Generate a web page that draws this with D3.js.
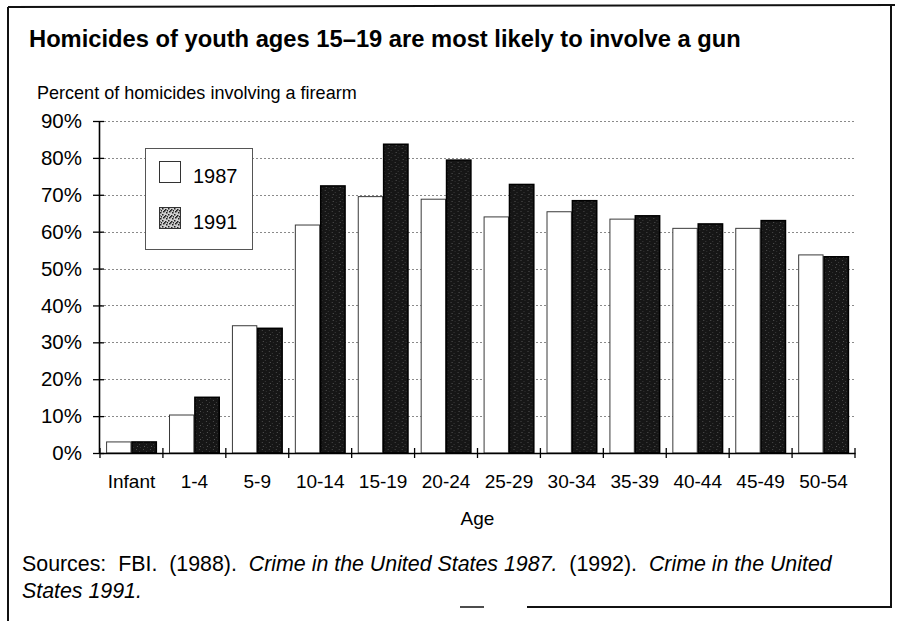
<!DOCTYPE html>
<html>
<head>
<meta charset="utf-8">
<script src="https://cdn.jsdelivr.net/npm/d3@7"></script>
<style>
  html, body { margin: 0; padding: 0; background: #fff; }
  svg { display: block; font-family: "Liberation Sans", Arial, Helvetica, sans-serif; }
  text { white-space: pre; }
</style>
</head>
<body>
<svg id="chart" width="899" height="621"></svg>
<script>
// Age groups on the x axis
const categories = ["Infant", "1-4", "5-9", "10-14", "15-19", "20-24", "25-29", "30-34", "35-39", "40-44", "45-49", "50-54"];
// Percent of homicides involving a firearm, by year
const values1987 = [3.0, 10.3, 34.5, 61.8, 69.5, 68.8, 64.0, 65.4, 63.4, 60.9, 60.9, 53.7];
const values1991 = [3.0, 15.1, 33.8, 72.4, 83.7, 79.4, 72.8, 68.4, 64.3, 62.1, 63.0, 53.2];
const seriesNames = ["1987", "1991"];
const yTicks = [0, 10, 20, 30, 40, 50, 60, 70, 80, 90];

const titleText = "Homicides of youth ages 15\u201319 are most likely to involve a gun";
const yLabelText = "Percent of homicides involving a firearm";
const xLabelText = "Age";

const svg = d3.select("#chart");

// shrink/grow a text's font so it spans a given width
function fitWidth(sel, width, base) {
  sel.style("font-size", base + "px");
  const w = sel.node().getComputedTextLength();
  sel.style("font-size", (base * width / w).toFixed(2) + "px");
  return sel;
}

// Stipple fills for the 1991 series
const defs = svg.append("defs");
const darkPat = defs.append("pattern")
  .attr("id", "dark").attr("patternUnits", "userSpaceOnUse")
  .attr("width", 7).attr("height", 7);
darkPat.append("rect").attr("width", 7).attr("height", 7).attr("fill", "#161616");
[[1, 1, "#4a4a4a"], [4, 3, "#3a3a3a"], [2, 5, "#555"], [5, 6, "#2e2e2e"]].forEach(([px, py, c]) =>
  darkPat.append("rect").attr("x", px).attr("y", py).attr("width", 1).attr("height", 1).attr("fill", c));

const swatchPat = defs.append("pattern")
  .attr("id", "speckle").attr("patternUnits", "userSpaceOnUse")
  .attr("width", 6).attr("height", 6);
swatchPat.append("rect").attr("width", 6).attr("height", 6).attr("fill", "#cfcfcf");
[[0, 0], [3, 1], [1, 3], [4, 4], [2, 2], [5, 2]].forEach(([px, py]) =>
  swatchPat.append("rect").attr("x", px).attr("y", py).attr("width", 1.5).attr("height", 1.5).attr("fill", "#222"));

// Outer frame
const frame = svg.append("g").attr("stroke", "#111").attr("stroke-width", 2).attr("fill", "none");
frame.append("line").attr("x1", 8).attr("y1", 7).attr("x2", 8).attr("y2", 621);
frame.append("line").attr("x1", 8).attr("y1", 7).attr("x2", 895).attr("y2", 5);
frame.append("line").attr("x1", 891).attr("y1", 5).attr("x2", 891).attr("y2", 607);
frame.append("line").attr("x1", 460).attr("y1", 607).attr("x2", 484).attr("y2", 607).attr("stroke-width", 1.5);
frame.append("line").attr("x1", 527).attr("y1", 607).attr("x2", 892).attr("y2", 607);

// Title and axis caption
fitWidth(svg.append("text").attr("x", 29).attr("y", 47)
  .attr("font-weight", "bold").attr("fill", "#000").text(titleText), 712, 22);
fitWidth(svg.append("text").attr("x", 37).attr("y", 99)
  .attr("fill", "#000").text(yLabelText), 320, 19);

// Scales
const plotLeft = 100, plotRight = 855, plotTop = 121, plotBottom = 453;
const x = d3.scaleBand().domain(categories).range([plotLeft, plotRight]).paddingInner(0).paddingOuter(0);
const x1 = d3.scaleBand().domain(seriesNames).range([0, x.bandwidth()]).paddingInner(0).paddingOuter(0.24);
const y = d3.scaleLinear().domain([0, 90]).range([plotBottom, plotTop]);

// Dotted gridlines
svg.append("g").selectAll("line")
  .data(yTicks.filter(d => d > 0))
  .join("line")
  .attr("x1", plotLeft).attr("x2", plotRight)
  .attr("y1", d => Math.round(y(d)) + 0.5).attr("y2", d => Math.round(y(d)) + 0.5)
  .attr("stroke", "#8a8a8a").attr("stroke-width", 1).attr("stroke-dasharray", "2,2");

// Bars
const rows = categories.map((c, i) => ({ cat: c, vals: [
  { key: "1987", v: values1987[i] },
  { key: "1991", v: values1991[i] }
]}));

const groups = svg.append("g").selectAll("g")
  .data(rows).join("g")
  .attr("transform", d => `translate(${x(d.cat)},0)`);

groups.selectAll("rect")
  .data(d => d.vals)
  .join("rect")
  .attr("x", d => x1(d.key) + 0.5)
  .attr("y", d => y(d.v))
  .attr("width", x1.bandwidth() - 1)
  .attr("height", d => plotBottom - y(d.v))
  .attr("fill", d => d.key === "1987" ? "#fff" : "url(#dark)")
  .attr("stroke", d => d.key === "1987" ? "#3a3a3a" : "#000")
  .attr("stroke-width", d => d.key === "1987" ? 1 : 1.5);

// Y axis
const yAxis = svg.append("g")
  .attr("transform", `translate(${plotLeft - 1},0)`)
  .call(d3.axisLeft(y).tickValues(yTicks).tickFormat(d => d + "%").tickSizeInner(6).tickSizeOuter(0).tickPadding(11));
yAxis.select(".domain").attr("stroke", "#000").attr("stroke-width", 1.6);
yAxis.selectAll(".tick line").attr("x1", 5).attr("x2", -6).attr("stroke", "#000").attr("stroke-width", 1.3);
yAxis.selectAll(".tick text")
  .attr("fill", "#000")
  .style("font-size", "20.5px")
  .style("font-family", "'Liberation Sans', Arial, sans-serif");

// X axis: category labels centred, ticks at band edges
const xAxis = svg.append("g")
  .attr("transform", `translate(0,${plotBottom})`)
  .call(d3.axisBottom(x).tickSize(0).tickPadding(21.5));
xAxis.select(".domain").attr("stroke", "#000").attr("stroke-width", 1.6);
xAxis.selectAll(".tick text")
  .attr("fill", "#000")
  .style("font-size", "19px")
  .style("font-family", "'Liberation Sans', Arial, sans-serif");

const edges = categories.map(c => x(c)).concat([x(categories[categories.length - 1]) + x.bandwidth()]);
xAxis.append("g").selectAll("line")
  .data(edges).join("line")
  .attr("x1", d => d).attr("x2", d => d)
  .attr("y1", -5).attr("y2", 5)
  .attr("stroke", "#000").attr("stroke-width", 1.3);

svg.append("text")
  .attr("x", (plotLeft + plotRight) / 2).attr("y", 525)
  .attr("text-anchor", "middle").attr("fill", "#000")
  .style("font-size", "19px").text(xLabelText);

// Legend
const legend = svg.append("g");
legend.append("rect")
  .attr("x", 145.5).attr("y", 148.5).attr("width", 107).attr("height", 101)
  .attr("fill", "#fff").attr("stroke", "#555").attr("stroke-width", 1);
const legendItems = legend.selectAll("g.item")
  .data(seriesNames).join("g")
  .attr("class", "item")
  .attr("transform", (d, i) => `translate(0,${i * 46})`);
legendItems.append("rect")
  .attr("x", 159.5).attr("y", 161.5).attr("width", 21).attr("height", 21)
  .attr("fill", d => d === "1987" ? "#fff" : "url(#speckle)")
  .attr("stroke", "#333").attr("stroke-width", 1);
legendItems.append("text")
  .attr("x", 193).attr("y", 183)
  .attr("fill", "#000").style("font-size", "20px")
  .text(d => d);

// Source note
const src = svg.append("text").attr("x", 22).attr("y", 571).attr("fill", "#000").style("font-size", "18px");
src.append("tspan").text("Sources:  FBI.  (1988).  ");
src.append("tspan").attr("font-style", "italic").text("Crime in the United States 1987.");
src.append("tspan").text("  (1992).  ");
src.append("tspan").attr("font-style", "italic").text("Crime in the United");
fitWidth(src, 810, 18);

const src2 = svg.append("text").attr("x", 22).attr("y", 598).attr("fill", "#000")
  .style("font-size", src.style("font-size"));
src2.append("tspan").attr("font-style", "italic").text("States 1991.");
</script>
</body>
</html>
